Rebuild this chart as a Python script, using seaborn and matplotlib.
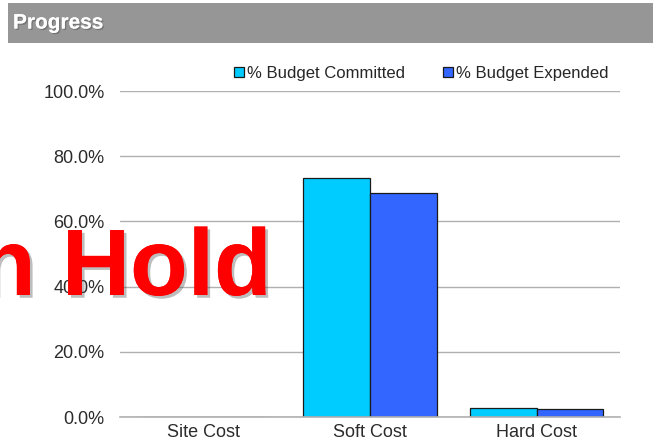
import pandas as pd
import matplotlib
matplotlib.use("Agg")
import matplotlib.pyplot as plt
import matplotlib.patheffects as pe
from matplotlib.patches import Rectangle
from matplotlib.ticker import PercentFormatter
import seaborn as sns

# Data
categories = ["Site Cost", "Soft Cost", "Hard Cost"]
committed = [0.0, 73.4, 2.7]
expended = [0.0, 68.7, 2.4]
series_names = ["% Budget Committed", "% Budget Expended"]
colors = ["#00CCFF", "#3366FF"]

df = pd.DataFrame({
    "category": categories * 2,
    "series": [series_names[0]] * 3 + [series_names[1]] * 3,
    "value": committed + expended,
})

sns.set_style("white")
plt.rcParams["font.family"] = ["Liberation Sans", "DejaVu Sans"]

fig = plt.figure(figsize=(6.53, 4.45), dpi=100)
ax = fig.add_axes([120 / 653, 1 - 417 / 445, 500 / 653, 326 / 445])

sns.barplot(data=df, x="category", y="value", hue="series", order=categories,
            hue_order=series_names, palette=colors, saturation=1, width=0.8,
            edgecolor="#1a1a1a", linewidth=0.9, ax=ax, zorder=3)

ax.set_ylim(0, 100)
ax.set_xlim(-0.5, 2.5)
ax.set_yticks([0, 20, 40, 60, 80, 100])
ax.yaxis.set_major_formatter(PercentFormatter(decimals=1))
ax.grid(True, axis="y", color="#b0b0b0", linewidth=1.0, zorder=0)
ax.set_xlabel("")
ax.set_ylabel("")

for side in ["top", "right", "left"]:
    ax.spines[side].set_visible(False)
ax.spines["bottom"].set_color("#b0b0b0")
ax.spines["bottom"].set_linewidth(1.2)
ax.spines["bottom"].set_zorder(4)

ax.tick_params(axis="y", length=0, pad=11, labelsize=13, labelcolor="#2b2b2b")
ax.tick_params(axis="x", which="major", length=0, pad=5, labelsize=13,
               labelcolor="#2b2b2b")
ax.set_xticks([-0.5, 0.5, 1.5, 2.5], minor=True)
ax.tick_params(axis="x", which="minor", length=4, width=1.0, color="#b0b0b0",
               direction="out")

handles, labels = ax.get_legend_handles_labels()
ax.legend(handles, labels, ncol=2, frameon=False, loc="lower right",
          bbox_to_anchor=(0.99, 1.01), fontsize=12, handlelength=0.6,
          handleheight=0.6, handletextpad=0.15, columnspacing=2.3,
          borderaxespad=0)

# Header bar
fig.patches.append(Rectangle((8 / 653, 1 - 43 / 445), 1, 40 / 445,
                             transform=fig.transFigure, facecolor="#969696",
                             edgecolor="none", zorder=0))
fig.text(13 / 653, 1 - 23 / 445, "Progress", color="white", fontsize=15,
         fontweight="bold", va="center", ha="left",
         path_effects=[pe.withSimplePatchShadow(offset=(1, -1), shadow_rgbFace="#555555",
                                                alpha=0.5), pe.Normal()])

# Overlay stamp
fig.text(272 / 653, 1 - 295 / 445, "On Hold", color="#ff0000", fontsize=68,
         fontweight="bold", ha="right", va="baseline", zorder=10,
         path_effects=[pe.withSimplePatchShadow(offset=(2, -2), shadow_rgbFace="#444444",
                                                alpha=0.35), pe.Normal()])

fig.savefig("out.png", dpi=100)
